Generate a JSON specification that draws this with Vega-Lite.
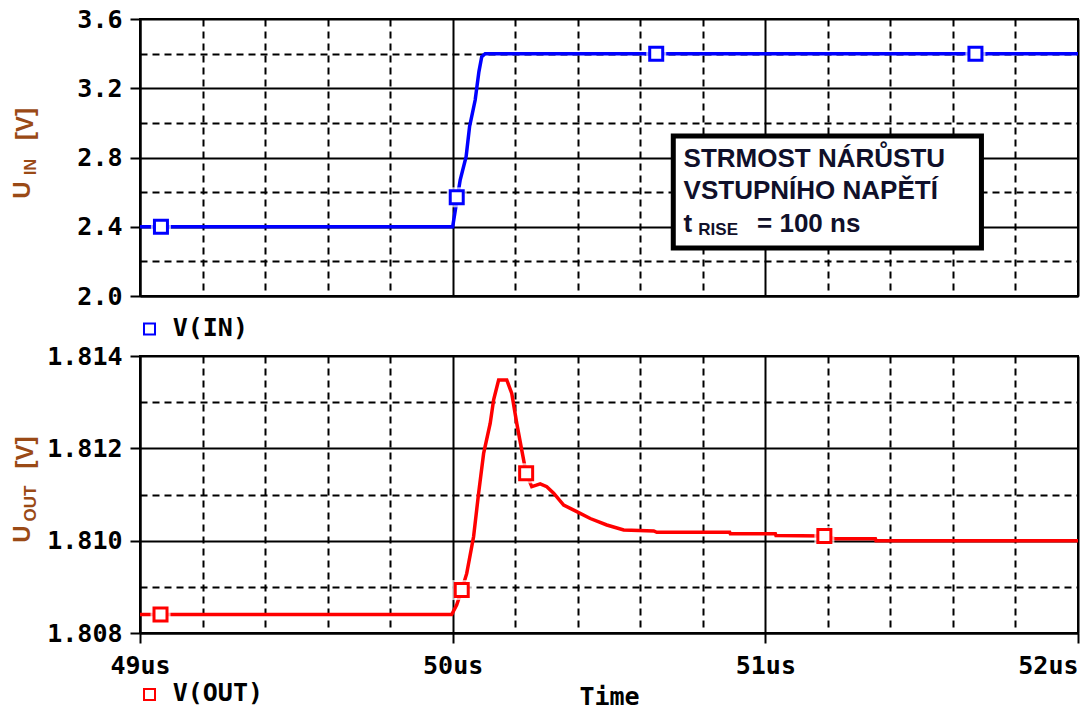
{
  "$schema": "https://vega.github.io/schema/vega-lite/v6.json",
  "background": "white",
  "padding": {"left": 9, "top": 6, "right": 5, "bottom": 0},
  "bounds": "flush",
  "spacing": 60,
  "config": {
    "view": {"stroke": "black", "strokeWidth": 2},
    "axis": {
      "domainColor": "black", "domainWidth": 2,
      "tickColor": "black", "tickWidth": 2,
      "gridColor": "black", "gridOpacity": 1,
      "labelFont": "DejaVu Sans Mono", "labelFontWeight": "bold", "labelFontSize": 25, "labelColor": "black",
      "titleFont": "DejaVu Sans Mono", "titleFontWeight": "bold", "titleFontSize": 25, "titleColor": "black"
    }
  },
  "datasets": {
    "vin": [
      {"t": 49.0, "v": 2.4}, {"t": 50.0, "v": 2.4}, {"t": 50.011, "v": 2.525}, {"t": 50.024, "v": 2.67},
      {"t": 50.043, "v": 2.805}, {"t": 50.054, "v": 2.978}, {"t": 50.072, "v": 3.132}, {"t": 50.084, "v": 3.296},
      {"t": 50.093, "v": 3.382}, {"t": 50.104, "v": 3.4}, {"t": 52.0, "v": 3.4}
    ],
    "vinMarks": [
      {"t": 49.067, "v": 2.4}, {"t": 50.013, "v": 2.57}, {"t": 50.651, "v": 3.4}, {"t": 51.672, "v": 3.4}
    ],
    "vout": [
      {"t": 49.0, "v": 1.8084}, {"t": 49.997, "v": 1.8084}, {"t": 50.013, "v": 1.80861}, {"t": 50.029, "v": 1.80893},
      {"t": 50.045, "v": 1.80929}, {"t": 50.067, "v": 1.81009}, {"t": 50.083, "v": 1.81103}, {"t": 50.099, "v": 1.81189},
      {"t": 50.12, "v": 1.81254}, {"t": 50.131, "v": 1.81305}, {"t": 50.147, "v": 1.81348}, {"t": 50.173, "v": 1.81348},
      {"t": 50.189, "v": 1.81319}, {"t": 50.205, "v": 1.81254}, {"t": 50.221, "v": 1.81196}, {"t": 50.235, "v": 1.81146},
      {"t": 50.253, "v": 1.81117}, {"t": 50.28, "v": 1.81123}, {"t": 50.301, "v": 1.81117}, {"t": 50.323, "v": 1.81103},
      {"t": 50.355, "v": 1.81077}, {"t": 50.397, "v": 1.81063}, {"t": 50.44, "v": 1.81048}, {"t": 50.493, "v": 1.81034},
      {"t": 50.547, "v": 1.81023}, {"t": 50.643, "v": 1.81021}, {"t": 50.653, "v": 1.81018}, {"t": 50.886, "v": 1.81018},
      {"t": 50.888, "v": 1.81015}, {"t": 51.032, "v": 1.81015}, {"t": 51.034, "v": 1.81011}, {"t": 51.19, "v": 1.8101},
      {"t": 51.224, "v": 1.81004}, {"t": 51.352, "v": 1.81004}, {"t": 51.354, "v": 1.81}, {"t": 52.0, "v": 1.81}
    ],
    "voutMarks": [
      {"t": 49.0656, "v": 1.8084}, {"t": 50.029, "v": 1.80893}, {"t": 50.235, "v": 1.81146}, {"t": 51.1888, "v": 1.8101}
    ],
    "inTitleBig": [
      {"t": 48.6256, "v": 2.6123, "s": "U"}, {"t": 48.6352, "v": 2.9935, "s": "[V]"}
    ],
    "inTitleSub": [
      {"t": 48.6528, "v": 2.7451, "s": "IN"}
    ],
    "outTitleBig": [
      {"t": 48.6256, "v": 1.810144, "s": "U"}, {"t": 48.6352, "v": 1.81191, "s": "[V]"}
    ],
    "outTitleSub": [
      {"t": 48.6528, "v": 1.810805, "s": "OUT"}
    ],
    "noteBox": [
      {"t1": 50.7056, "t2": 51.6912, "v1": 2.9242, "v2": 2.2773}
    ],
    "noteText": [
      {"t": 50.7386, "v": 2.7469, "s": "STRMOST NÁRŮSTU"},
      {"t": 50.7386, "v": 2.5586, "s": "VSTUPNÍHO NAPĚTÍ"},
      {"t": 50.7386, "v": 2.3714, "s": "t"},
      {"t": 50.9734, "v": 2.3714, "s": "= 100 ns"}
    ],
    "noteSub": [
      {"t": 50.7856, "v": 2.3524, "s": "RISE"}
    ],
    "inLegendMark": [{"t": 49.0304, "v": 1.8094}],
    "inLegendText": [{"t": 49.1046, "v": 1.8152, "s": "V(IN)"}],
    "outLegendMark": [{"t": 49.0304, "v": 1.80667}],
    "outLegendText": [{"t": 49.1046, "v": 1.8067, "s": "V(OUT)"}]
  },
  "vconcat": [
    {
      "width": 938,
      "height": 277,
      "resolve": {"axis": {"x": "independent", "y": "independent"}},
      "layer": [
        {
          "data": {"name": "vin"},
          "mark": {"type": "line", "color": "#0000ff", "strokeWidth": 3.5},
          "encoding": {
            "x": {"field": "t", "type": "quantitative", "scale": {"domain": [49, 52], "nice": false, "zero": false},
                  "axis": {"orient": "bottom", "values": [49, 50, 51, 52], "labels": false, "ticks": false, "domain": true, "grid": true, "gridWidth": 2, "title": null}},
            "y": {"field": "v", "type": "quantitative", "scale": {"domain": [2.0, 3.6], "nice": false, "zero": false},
                  "axis": {"orient": "left", "values": [2.0, 2.4, 2.8, 3.2, 3.6], "format": ".1f", "tickSize": 10, "labelPadding": 8, "grid": true, "gridWidth": 2, "title": null}}
          }
        },
        {
          "data": {"name": "vinMarks"},
          "mark": {"type": "point", "shape": "square", "filled": true, "color": "white", "size": 400, "strokeWidth": 0},
          "encoding": {
            "x": {"field": "t", "type": "quantitative",
                  "axis": {"orient": "bottom", "values": [49.2, 49.4, 49.6, 49.8, 50.2, 50.4, 50.6, 50.8, 51.2, 51.4, 51.6, 51.8], "labels": false, "ticks": false, "domain": false, "grid": true, "gridWidth": 2, "gridDash": [7, 5], "title": null}},
            "y": {"field": "v", "type": "quantitative",
                  "axis": {"orient": "left", "values": [2.2, 2.6, 3.0, 3.4], "labels": false, "ticks": false, "domain": false, "grid": true, "gridWidth": 2, "gridDash": [7, 5], "title": null}}
          }
        },
        {
          "data": {"name": "vinMarks"},
          "mark": {"type": "point", "shape": "square", "filled": false, "fill": "white", "fillOpacity": 1, "stroke": "#0000ff", "size": 169, "strokeWidth": 3, "opacity": 1},
          "encoding": {
            "x": {"field": "t", "type": "quantitative", "axis": null},
            "y": {"field": "v", "type": "quantitative", "axis": null}
          }
        },
        {
          "data": {"name": "noteBox"},
          "mark": {"type": "rect", "fill": "white", "stroke": "black", "strokeWidth": 5},
          "encoding": {
            "x": {"field": "t1", "type": "quantitative", "axis": null},
            "x2": {"field": "t2"},
            "y": {"field": "v1", "type": "quantitative", "axis": null},
            "y2": {"field": "v2"}
          }
        },
        {
          "data": {"name": "noteText"},
          "mark": {"type": "text", "align": "left", "baseline": "alphabetic", "font": "Liberation Sans", "fontWeight": "bold", "fontSize": 26, "color": "#10102a"},
          "encoding": {
            "x": {"field": "t", "type": "quantitative", "axis": null},
            "y": {"field": "v", "type": "quantitative", "axis": null},
            "text": {"field": "s"}
          }
        },
        {
          "data": {"name": "noteSub"},
          "mark": {"type": "text", "align": "left", "baseline": "alphabetic", "font": "Liberation Sans", "fontWeight": "bold", "fontSize": 17, "color": "#10102a"},
          "encoding": {
            "x": {"field": "t", "type": "quantitative", "axis": null},
            "y": {"field": "v", "type": "quantitative", "axis": null},
            "text": {"field": "s"}
          }
        },
        {
          "data": {"name": "inTitleBig"},
          "mark": {"type": "text", "angle": 270, "align": "center", "baseline": "middle", "font": "Liberation Sans", "fontWeight": "bold", "fontSize": 24, "color": "#9a4a16"},
          "encoding": {
            "x": {"field": "t", "type": "quantitative", "axis": null},
            "y": {"field": "v", "type": "quantitative", "axis": null},
            "text": {"field": "s"}
          }
        },
        {
          "data": {"name": "inTitleSub"},
          "mark": {"type": "text", "angle": 270, "align": "center", "baseline": "middle", "font": "Liberation Sans", "fontWeight": "bold", "fontSize": 16, "color": "#9a4a16"},
          "encoding": {
            "x": {"field": "t", "type": "quantitative", "axis": null},
            "y": {"field": "v", "type": "quantitative", "axis": null},
            "text": {"field": "s"}
          }
        },
        {
          "data": {"name": "inLegendMark"},
          "mark": {"type": "point", "shape": "square", "filled": false, "stroke": "#0000ff", "size": 121, "strokeWidth": 2, "opacity": 1},
          "encoding": {
            "x": {"field": "t", "type": "quantitative", "axis": null},
            "y": {"field": "v", "type": "quantitative", "axis": null}
          }
        },
        {
          "data": {"name": "inLegendText"},
          "mark": {"type": "text", "align": "left", "baseline": "middle", "font": "DejaVu Sans Mono", "fontWeight": "bold", "fontSize": 25, "color": "black"},
          "encoding": {
            "x": {"field": "t", "type": "quantitative", "axis": null},
            "y": {"field": "v", "type": "quantitative", "axis": null},
            "text": {"field": "s"}
          }
        }
      ]
    },
    {
      "width": 938,
      "height": 277,
      "resolve": {"axis": {"x": "independent", "y": "independent"}},
      "layer": [
        {
          "data": {"name": "vout"},
          "mark": {"type": "line", "color": "#ff0000", "strokeWidth": 3.5},
          "encoding": {
            "x": {"field": "t", "type": "quantitative", "scale": {"domain": [49, 52], "nice": false, "zero": false},
                  "axis": {"orient": "bottom", "values": [49, 50, 51, 52], "labelExpr": "format(datum.value, 'd') + 'us'",
                           "labelAlign": {"condition": {"test": "datum.value == 52", "value": "right"}, "value": "center"},
                           "tickSize": 10, "labelPadding": 10, "domain": true, "grid": true, "gridWidth": 2, "title": "Time", "titlePadding": 6}},
            "y": {"field": "v", "type": "quantitative", "scale": {"domain": [1.808, 1.814], "nice": false, "zero": false},
                  "axis": {"orient": "left", "values": [1.808, 1.81, 1.812, 1.814], "format": ".3f", "tickSize": 10, "labelPadding": 8, "grid": true, "gridWidth": 2, "title": null}}
          }
        },
        {
          "data": {"name": "voutMarks"},
          "mark": {"type": "point", "shape": "square", "filled": true, "color": "white", "size": 400, "strokeWidth": 0},
          "encoding": {
            "x": {"field": "t", "type": "quantitative",
                  "axis": {"orient": "bottom", "values": [49.2, 49.4, 49.6, 49.8, 50.2, 50.4, 50.6, 50.8, 51.2, 51.4, 51.6, 51.8], "labels": false, "ticks": false, "domain": false, "grid": true, "gridWidth": 2, "gridDash": [7, 5], "title": null}},
            "y": {"field": "v", "type": "quantitative",
                  "axis": {"orient": "left", "values": [1.809, 1.811, 1.813], "labels": false, "ticks": false, "domain": false, "grid": true, "gridWidth": 2, "gridDash": [7, 5], "title": null}}
          }
        },
        {
          "data": {"name": "voutMarks"},
          "mark": {"type": "point", "shape": "square", "filled": false, "fill": "white", "fillOpacity": 1, "stroke": "#ff0000", "size": 169, "strokeWidth": 3, "opacity": 1},
          "encoding": {
            "x": {"field": "t", "type": "quantitative", "axis": null},
            "y": {"field": "v", "type": "quantitative", "axis": null}
          }
        },
        {
          "data": {"name": "outTitleBig"},
          "mark": {"type": "text", "angle": 270, "align": "center", "baseline": "middle", "font": "Liberation Sans", "fontWeight": "bold", "fontSize": 24, "color": "#9a4a16"},
          "encoding": {
            "x": {"field": "t", "type": "quantitative", "axis": null},
            "y": {"field": "v", "type": "quantitative", "axis": null},
            "text": {"field": "s"}
          }
        },
        {
          "data": {"name": "outTitleSub"},
          "mark": {"type": "text", "angle": 270, "align": "center", "baseline": "middle", "font": "Liberation Sans", "fontWeight": "bold", "fontSize": 17, "color": "#9a4a16"},
          "encoding": {
            "x": {"field": "t", "type": "quantitative", "axis": null},
            "y": {"field": "v", "type": "quantitative", "axis": null},
            "text": {"field": "s"}
          }
        },
        {
          "data": {"name": "outLegendMark"},
          "mark": {"type": "point", "shape": "square", "filled": false, "stroke": "#ff0000", "size": 121, "strokeWidth": 2, "opacity": 1},
          "encoding": {
            "x": {"field": "t", "type": "quantitative", "axis": null},
            "y": {"field": "v", "type": "quantitative", "axis": null}
          }
        },
        {
          "data": {"name": "outLegendText"},
          "mark": {"type": "text", "align": "left", "baseline": "middle", "font": "DejaVu Sans Mono", "fontWeight": "bold", "fontSize": 25, "color": "black"},
          "encoding": {
            "x": {"field": "t", "type": "quantitative", "axis": null},
            "y": {"field": "v", "type": "quantitative", "axis": null},
            "text": {"field": "s"}
          }
        }
      ]
    }
  ]
}
